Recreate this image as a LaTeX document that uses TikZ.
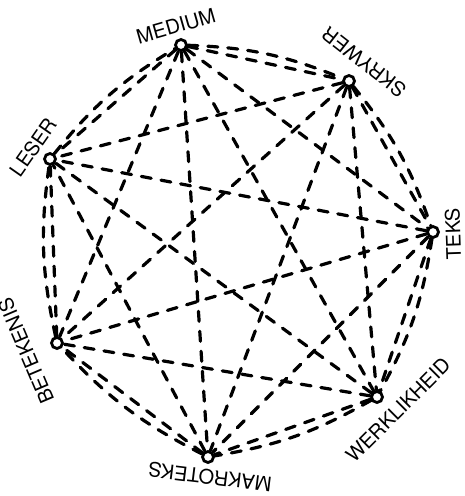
\documentclass[tikz,border=0pt]{standalone}
\usepackage{fontspec}
\setsansfont{TeX Gyre Heros}
\begin{document}
\begin{tikzpicture}[x=1pt, y=-1pt,
    point/.style={draw, circle, fill=white, line width=2.8pt, inner sep=0pt, minimum size=11pt},
    tag/.style={font=\sffamily\fontsize{20}{24}\selectfont, inner sep=0pt},
    link/.style={dash pattern=on 10pt off 10pt, line width=3.2pt, line cap=round}]
            \useasboundingbox (0,0) rectangle (465,496);

            \node (medium) [point] at (181,45) {};
            \node (skrywer) [point] at (349,81) {};
            \node (teks) [point] at (433,232) {};
            \node (werklikheid) [point] at (377,397) {};
            \node (makroteks) [point] at (208,457) {};
            \node (betekenis) [point] at (57,343) {};
            \node (leser) [point] at (50,159) {};

            \node (mediumtext) [tag, rotate=16] at (176,26) {MEDIUM};
            \node (skrywertext) [tag, rotate=142] at (364,62) {SKRYWER};
            \node (tekstext) [tag, rotate=92] at (453,234) {TEKS};
            \node (werklikheidtext) [tag, rotate=45] at (398,410) {WERKLIKHEID};
            \node (makrotekstext) [tag, rotate=173] at (210,477) {MAKROTEKS};
            \node (betekenistext) [tag, rotate=113] at (26,351) {BETEKENIS};
            \node (lesertext) [tag, rotate=55] at (33,147) {LESER};

            \draw [link] (medium) -- (skrywer);
            \draw [link] (medium) -- (teks);
            \draw [link] (medium) -- (werklikheid);
            \draw [link] (medium) -- (makroteks);
            \draw [link] (medium) -- (betekenis);
            \draw [link] (medium) -- (leser);
            \draw [link] (skrywer) -- (teks);
            \draw [link] (skrywer) -- (werklikheid);
            \draw [link] (skrywer) -- (makroteks);
            \draw [link] (skrywer) -- (betekenis);
            \draw [link] (skrywer) -- (leser);
            \draw [link] (teks) -- (werklikheid);
            \draw [link] (teks) -- (makroteks);
            \draw [link] (teks) -- (betekenis);
            \draw [link] (teks) -- (leser);
            \draw [link] (werklikheid) -- (makroteks);
            \draw [link] (werklikheid) -- (betekenis);
            \draw [link] (werklikheid) -- (leser);
            \draw [link] (makroteks) -- (betekenis);
            \draw [link] (makroteks) -- (leser);
            \draw [link] (betekenis) -- (leser);

            \draw [link] (medium) to[bend left=10] (skrywer);
            \draw [link] (skrywer) to[bend left=10] (teks);
            \draw [link] (teks) to[bend left=10] (werklikheid);
            \draw [link] (werklikheid) to[bend left=10] (makroteks);
            \draw [link] (makroteks) to[bend left=10] (betekenis);
            \draw [link] (betekenis) to[bend left=10] (leser);
            \draw [link] (leser) to[bend left=10] (medium);
\end{tikzpicture}
\end{document}
